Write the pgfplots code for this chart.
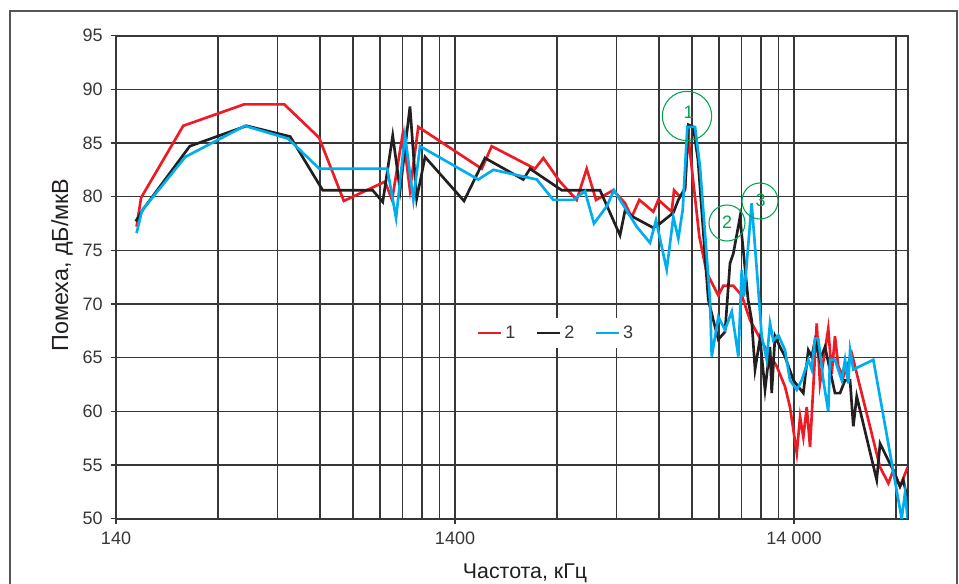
\documentclass[border=0pt]{standalone}
\usepackage{pgfplots}
\pgfplotsset{compat=1.18}
\usepackage{fontspec}
\setmainfont{Liberation Sans}
\definecolor{cred}{RGB}{237,28,36}
\definecolor{cblk}{RGB}{35,31,32}
\definecolor{cblu}{RGB}{0,174,239}
\definecolor{cgrn}{RGB}{0,166,81}
\definecolor{cgrid}{RGB}{55,55,55}
\begin{document}
\begin{tikzpicture}
\useasboundingbox (0,0) rectangle (719.25pt,-438pt);
\draw[cgrid!85, line width=0.8pt] (7.5pt,-445pt) -- (7.5pt,-8.25pt) -- (717.75pt,-8.25pt) -- (717.75pt,-445pt);
\begin{axis}[
 at={(87pt,-389pt)}, anchor=south west,
 scale only axis, width=593.75pt, height=362.25pt,
 xmode=log, xmin=140, xmax=30300, ymin=50, ymax=95,
 xtick={140,1400,14000}, xticklabels={140,1400,14 000},
 minor xtick={280,420,560,700,840,980,1120,1260,2800,4200,5600,7000,8400,9800,11200,12600,28000},
 ytick={50,55,...,95},
 grid=both,
 major grid style={cgrid, line width=1.1pt},
 minor grid style={cgrid, line width=1.1pt},
 axis line style={cgrid, line width=1.4pt},
 tick style={cgrid, line width=1.1pt},
 tick align=outside, major tick length=4pt, minor tick length=0pt,
 xtick pos=bottom, ytick pos=left,
 ticklabel style={font=\fontsize{13.5}{15}\selectfont, text=cgrid},
 yticklabel style={xshift=-2.5pt},
 xticklabel style={yshift=-2.5pt},
 /pgf/number format/assume math mode=true,
 legend columns=3,
 legend style={draw=none, fill=white, at={(0.556,0.3845)}, anchor=center,
   font=\fontsize{13.5}{15}\selectfont, text=cgrid, inner sep=4pt,
   /tikz/every even column/.append style={column sep=13pt}},
 legend image code/.code={\draw[#1] (0cm,0cm) -- (0.62cm,0cm);},
 every axis plot/.append style={line width=2pt, line join=miter},
]
\addplot[cred] coordinates {
(161,77.2)(166,79.9)(221,86.6)(334,88.6)(439,88.6)(556,85.5)(658,79.6)(870,81.4)
(913,79.7)(982,85.9)(1031,80.6)(1091,86.5)(1679,82.6)(1796,84.7)(2411,82.6)(2551,83.6)
(2856,81.4)(3200,79.7)(3424,82.6)(3648,79.7)(4103,80.6)(4442,79.4)(4648,78.1)(4896,79.7)
(5385,78.6)(5571,79.7)(6101,78.6)(6197,80.6)(6454,80.0)(6678,80.6)(6829,86.5)(6877,84.7)
(7359,76.3)(7739,72.9)(8373,70.8)(8661,71.7)(9271,71.7)(9815,70.8)(10385,68.5)(11115,66.8)
(11627,65.7)(12446,64.2)(13171,62.3)(13622,60.4)(14266,56.1)(14588,59.5)(14914,57.6)(15263,60.4)
(15610,56.7)(16338,68.2)(16702,62.6)(17668,67.7)(18088,63.5)(18494,67.0)(18914,64.2)(19572,63.2)
(20720,65.4)(25116,54.8)(26572,53.3)(27482,54.5)(28756,53.0)(30300,54.8)};
\addlegendentry{1}
\addplot[cblk] coordinates {
(160,77.7)(169,78.9)(231,84.7)(340,86.6)(457,85.6)(570,80.6)(800,80.6)(857,79.5)
(917,85.7)(964,80.6)(1031,88.4)(1079,79.8)(1142,83.7)(1488,79.6)(1716,83.6)(2226,81.6)
(2330,82.6)(2890,80.6)(3749,80.6)(4294,76.4)(4442,78.7)(4700,78.1)(5385,77.1)(5635,77.5)
(6168,78.5)(6381,79.7)(6678,80.8)(6829,86.7)(7066,86.5)(7294,83.4)(7822,70.4)(8093,68.5)
(8373,66.7)(8761,67.4)(9064,73.8)(9271,74.7)(9700,78.1)(9920,75.0)(10250,70.4)(10500,68.5)
(10744,63.9)(11115,66.8)(11498,62.0)(11894,66.0)(12032,61.7)(12306,67.0)(12730,66.0)(13171,65.1)
(13936,62.9)(14914,61.7)(15428,65.7)(15790,65.1)(16148,66.6)(16702,64.8)(17280,66.0)(18494,61.7)
(19139,61.7)(19800,62.9)(20486,62.9)(20945,58.6)(21434,61.4)(24550,53.6)(25116,57.0)(27482,54.5)
(28756,53.0)(29414,53.6)(30300,51.7)};
\addlegendentry{2}
\addplot[cblu] coordinates {
(161,76.6)(167,78.7)(224,83.7)(336,86.6)(451,85.4)(557,82.6)(884,82.6)(938,78.0)
(997,85.7)(1055,79.7)(1104,84.7)(1640,81.6)(1816,82.5)(2439,81.6)(2730,79.7)(3128,79.7)
(3385,80.5)(3598,77.5)(3924,79.1)(4122,80.6)(4810,77.2)(5264,75.7)(5483,77.8)(5897,73.2)
(6168,78.1)(6381,76.1)(6575,78.8)(6782,86.5)(7147,86.5)(7393,82.8)(7913,70.4)(8005,65.1)
(8373,68.8)(8761,67.6)(9172,69.3)(9593,65.1)(9815,73.2)(9970,70.7)(10500,79.4)(10987,71.3)
(11243,67.0)(11634,64.8)(11894,68.2)(12166,66.6)(12585,67.1)(13171,65.7)(13622,62.9)(14266,62.0)
(14756,62.9)(15428,64.8)(15790,63.9)(16148,66.8)(16506,66.8)(17080,62.9)(17668,60.0)(17880,64.8)
(18494,64.8)(19362,62.9)(19800,64.8)(20244,62.6)(20486,65.7)(20945,63.9)(23996,64.8)(29092,50.0)
(29750,52.4)(30300,50.0)};
\addlegendentry{3}
\end{axis}
\node[rotate=90, font=\fontsize{17.5}{19}\selectfont, text=cblk] at (46.5pt,-198.75pt) {Помеха, дБ/мкВ};
\node[font=\fontsize{16}{18}\selectfont, text=cblk] at (393.75pt,-429.75pt) {Частота, кГц};
\begin{scope}[cgrn, line width=0.8pt]
\draw (515.25pt,-87pt) circle (18.5pt);
\node[font=\fontsize{13.5}{15}\selectfont] at (516.5pt,-84.5pt) {1};
\draw (545.25pt,-167.25pt) circle (13.5pt);
\node[font=\fontsize{13.5}{15}\selectfont] at (545.25pt,-166.5pt) {2};
\draw (570pt,-150.75pt) circle (13.5pt);
\node[font=\fontsize{13.5}{15}\selectfont] at (570.5pt,-150.5pt) {3};
\end{scope}
\end{tikzpicture}
\end{document}
